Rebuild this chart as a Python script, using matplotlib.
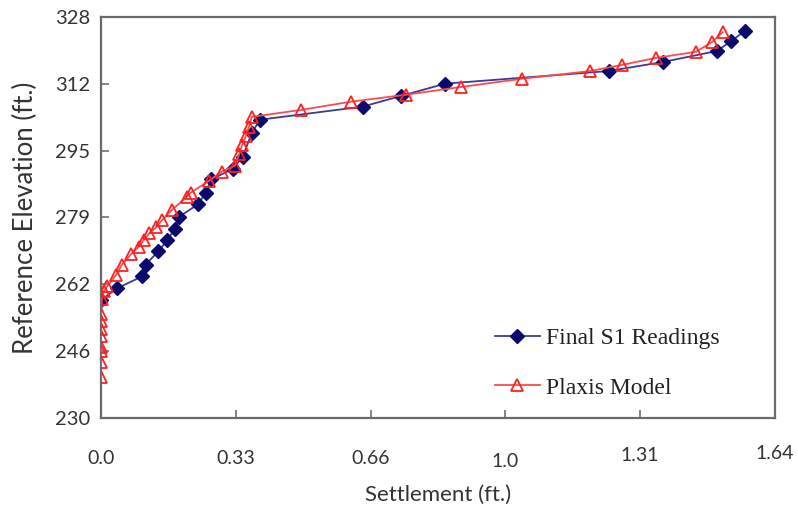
import matplotlib
matplotlib.use("Agg")
import matplotlib.pyplot as plt
import numpy as np

# ---- data ----
s1_x = [0.000, 0.039, 0.100, 0.109, 0.139, 0.161, 0.180, 0.190, 0.236, 0.255,
        0.268, 0.321, 0.345, 0.367, 0.387, 0.637, 0.730, 0.837, 1.236, 1.367,
        1.499, 1.533, 1.567]
s1_y = [258.8, 261.7, 264.6, 267.5, 270.7, 273.4, 276.3, 279.2, 282.2, 285.1,
        288.3, 290.9, 293.9, 299.7, 302.9, 306.1, 308.7, 311.7, 314.8, 317.0,
        319.7, 322.1, 324.6]

px_x = [0.000, 0.000, 0.000, 0.000, 0.000, 0.000, 0.000, 0.000,
        0.002, 0.007, 0.015, 0.036, 0.051, 0.073, 0.092, 0.105, 0.117, 0.134,
        0.148, 0.173, 0.209, 0.219, 0.263, 0.294, 0.326, 0.336, 0.343, 0.353,
        0.360, 0.367, 0.487, 0.608, 0.742, 0.876, 1.024, 1.190, 1.268, 1.350,
        1.448, 1.487, 1.513]
px_y = [240.0, 243.7, 246.3, 247.3, 250.0, 251.7, 253.6, 255.4,
        259.0, 261.0, 262.2, 264.9, 267.5, 270.0, 271.9, 273.6, 275.1, 276.6,
        278.3, 280.9, 284.1, 285.1, 288.0, 290.2, 291.7, 294.4, 296.6, 299.0,
        301.2, 303.6, 305.3, 307.3, 309.0, 310.9, 312.9, 314.8, 316.3, 318.0,
        319.5, 321.9, 324.3]

x_ticks = [0.0, 0.328, 0.656, 0.984, 1.312, 1.64]
x_labels = ["0.0", "0.33", "0.66", "1.0", "1.31", "1.64"]
y_ticks = [230, 246.33, 262.67, 279.0, 295.33, 311.67, 328]
y_labels = ["230", "246", "262", "279", "295", "312", "328"]

series_names = ["Final S1 Readings", "Plaxis Model"]

# ---- figure ----
fig = plt.figure(figsize=(7.98, 5.22), dpi=100)
ax = fig.add_axes([101 / 798, 1 - 418 / 522, 674 / 798, 401 / 522])

ax.plot(s1_x, s1_y, color="#3a3a9a", lw=1.3, marker="D", markersize=7,
        markerfacecolor="#0a0a6e", markeredgecolor="#0a0a6e",
        label=series_names[0], zorder=3)
ax.plot(px_x, px_y, color="#ff4a4a", lw=1.3, marker="^", markersize=8.5,
        markerfacecolor="none", markeredgecolor="#ff2020", markeredgewidth=1.3,
        label=series_names[1], zorder=4)

ax.set_xlim(0, 1.64)
ax.set_ylim(230, 328)

ax.set_xticks(x_ticks)
ax.set_xticklabels(x_labels, fontfamily="Lato", fontsize=14, color="#333333")
ax.set_yticks(y_ticks)
ax.set_yticklabels(y_labels, fontfamily="Lato", fontsize=14.5, color="#333333")

ax.tick_params(axis="both", direction="in", length=6, width=1.2, color="#707070")
ax.tick_params(axis="y", pad=8)
pads = [23, 23, 23, 25, 21, 19.5]
for t, p in zip(ax.xaxis.get_major_ticks(), pads):
    t.set_pad(p)

for s in ax.spines.values():
    s.set_color("#6a6a6a")
    s.set_linewidth(1.6)

ax.set_xlabel("Settlement (ft.)", fontfamily="Lato", fontsize=16,
              color="#333333", labelpad=11)
ax.set_ylabel("Reference Elevation (ft.)", fontfamily="Lato", fontsize=18.5,
              color="#333333", labelpad=12)

leg = ax.legend(loc="upper left", bbox_to_anchor=(0.553, 0.279), frameon=False,
                prop={"family": "Liberation Serif", "size": 17},
                handlelength=1.9, handletextpad=0.27, labelspacing=1.2)
for t in leg.get_texts():
    t.set_color("#222222")

fig.savefig("out.png", dpi=100)
